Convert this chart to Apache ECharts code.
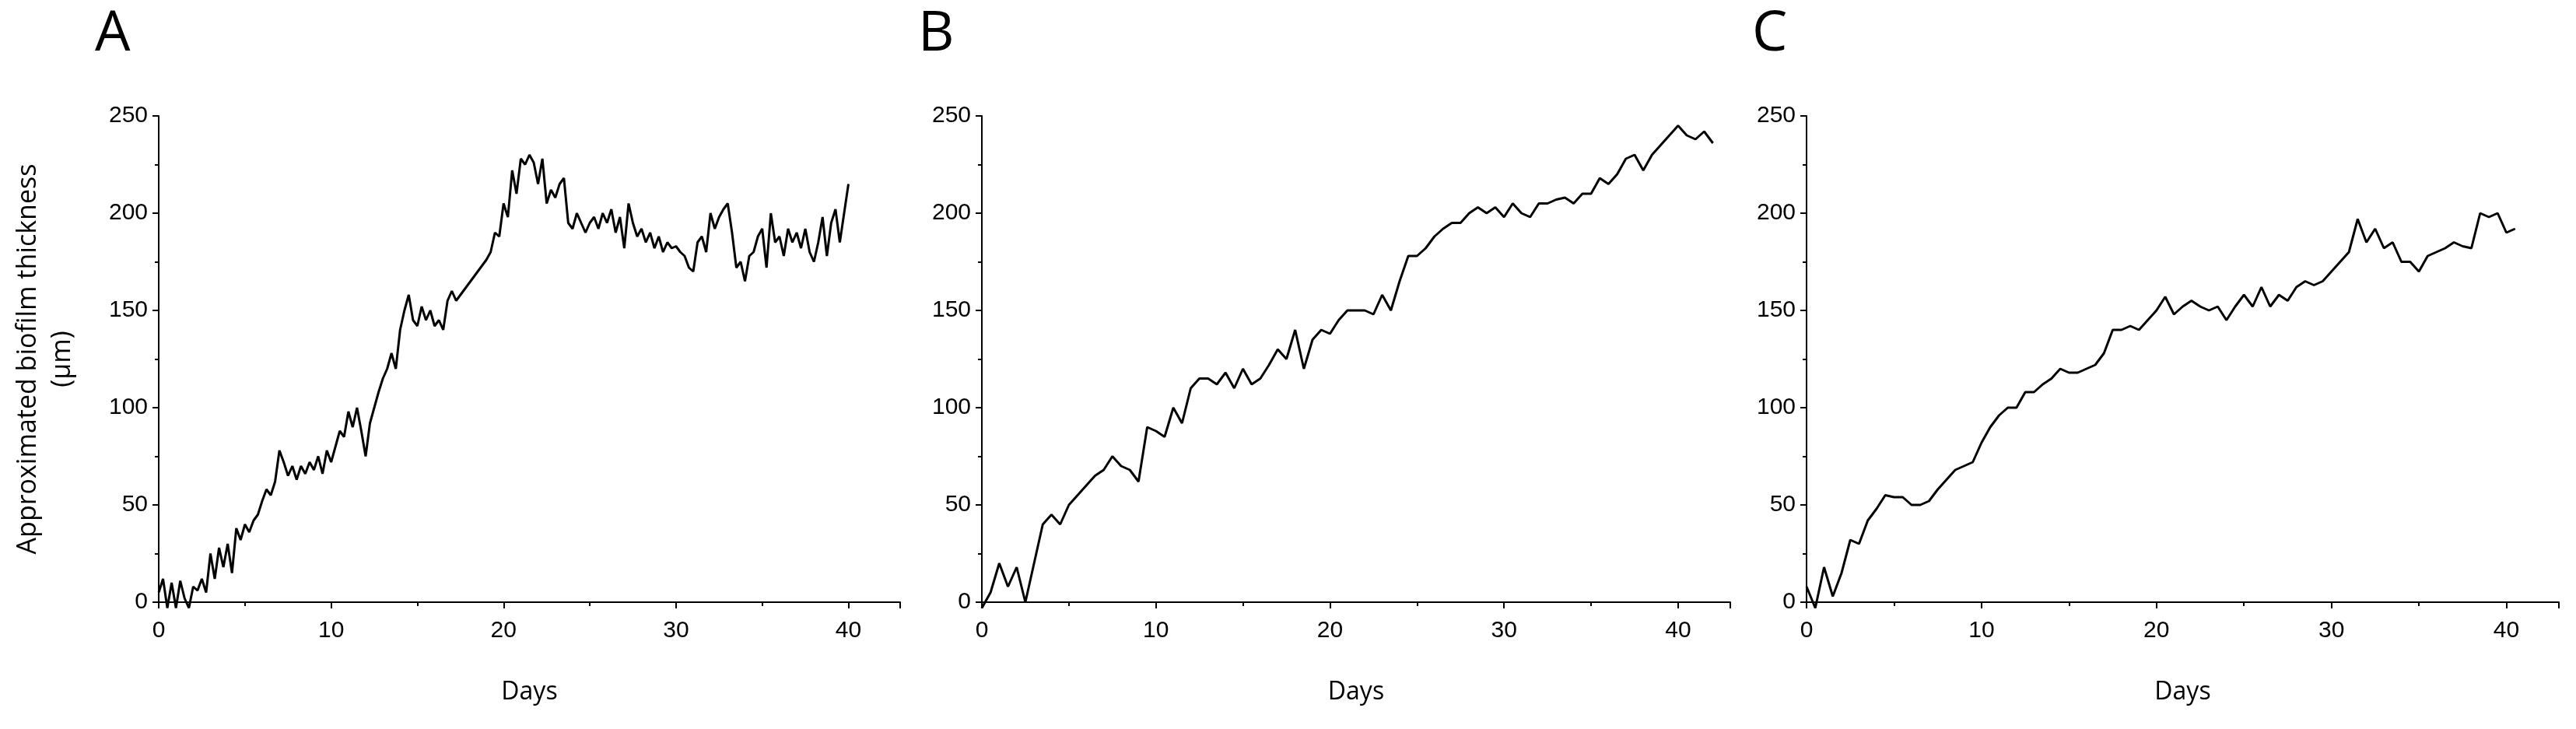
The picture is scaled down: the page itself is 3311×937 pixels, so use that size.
<!DOCTYPE html>
<html><head><meta charset="utf-8">
<script src="https://cdn.jsdelivr.net/npm/echarts@6/dist/echarts.min.js"></script>
<style>html,body{margin:0;background:#fff}#c{width:3311px;height:937px}</style>
</head><body><div id="c"></div>
<script>
const panelLabels = ['A','B','C'];
const xTitle = 'Days';
const yTitle = 'Approximated biofilm thickness\n(µm)';
const steps = [0.25, 0.5, 0.5];
const seriesA = [5,12,-3,10, -3,11,2,-3, 8,6,12,5, 25,12,28,18, 30,15,38,32, 40,36,42,45, 52,58,55,62, 78,72,65,70, 63,70,66,72, 68,75,66,78, 72,80,88,85, 98,90,100,88, 75,92,100,108, 115,120,128,120, 140,150,158,145, 142,152,145,150, 142,145,140,155, 160,155,158,161, 164,167,170,173, 176,180,190,188, 205,198,222,210, 228,225,230,226, 215,228,205,212, 208,215,218,195, 192,200,195,190, 195,198,192,200, 195,202,190,198, 182,205,195,188, 192,185,190,182, 188,180,185,182, 183,180,178,172, 170,185,188,180, 200,192,198,202, 205,190,172,175, 165,178,180,188, 192,172,200,185, 188,178,192,185, 190,182,192,180, 175,185,198,178, 195,202,185,200, 215];
const seriesB = [-3,5,20,8,18,0,20,40,45,40,50,55,60,65,68,75,70,68,62,90,88,85,100,92,110,115,115,112,118,110,120,112,115,122,130,125,140,120,135,140,138,145,150,150,150,148,158,150,165,178,178,182,188,192,195,195,200,203,200,203,198,205,200,198,205,205,207,208,205,210,210,218,215,220,228,230,222,230,235,240,245,240,238,242,236];
const seriesC = [8,-3,18,3,15,32,30,42,48,55,54,54,50,50,52,58,63,68,70,72,82,90,96,100,100,108,108,112,115,120,118,118,120,122,128,140,140,142,140,145,150,157,148,152,155,152,150,152,145,152,158,152,162,152,158,155,162,165,163,165,170,175,180,197,185,192,182,185,175,175,170,178,180,182,185,183,182,200,198,200,190,192];
const allSeries = [seriesA, seriesB, seriesC];
const grids = [{left:204,width:953},{left:1262,width:962},{left:2322,width:967}];
const letterX = [122,1180,2252];
const opt = {animation:false, grid:[], xAxis:[], yAxis:[], series:[], graphic:[]};
allSeries.forEach((s,i)=>{
  opt.grid.push({left:grids[i].left,width:grids[i].width,top:149,height:625});
  opt.xAxis.push({gridIndex:i,type:'value',min:0,max:43,interval:10,
    axisLine:{lineStyle:{color:'#000',width:2}},
    axisTick:{length:8,lineStyle:{color:'#000',width:2}},
    minorTick:{show:true,splitNumber:2,length:5,lineStyle:{color:'#000',width:2}},
    splitLine:{show:false},
    axisLabel:{fontSize:30,color:'#000',fontFamily:'Liberation Sans',margin:22,
      formatter:v=>v%10===0&&v<=40?String(v):''},
    name:xTitle,nameLocation:'middle',nameGap:100,
    nameTextStyle:{fontSize:32,color:'#000',fontFamily:'Open Sans'}});
  const y = {gridIndex:i,type:'value',min:0,max:250,interval:50,
    axisLine:{show:true,lineStyle:{color:'#000',width:2}},
    axisTick:{show:true,length:8,lineStyle:{color:'#000',width:2}},
    minorTick:{show:true,splitNumber:2,length:5,lineStyle:{color:'#000',width:2}},
    splitLine:{show:false},
    axisLabel:{fontSize:30,color:'#000',fontFamily:'Liberation Sans',margin:14}};
  if(i===0){Object.assign(y,{name:yTitle,nameLocation:'middle',nameGap:102,
    nameTextStyle:{fontSize:34,color:'#000',fontFamily:'Open Sans',lineHeight:44}});}
  opt.yAxis.push(y);
  opt.series.push({type:'line',xAxisIndex:i,yAxisIndex:i,showSymbol:false,clip:false,
    lineStyle:{color:'#000',width:3},data:s.map((v,k)=>[k*steps[i],v])});
  opt.graphic.push({type:'text',left:letterX[i],top:8,
    style:{text:panelLabels[i],fontSize:72,fill:'#000',fontFamily:'Open Sans'}});
});
echarts.init(document.getElementById('c')).setOption(opt);
</script></body></html>
